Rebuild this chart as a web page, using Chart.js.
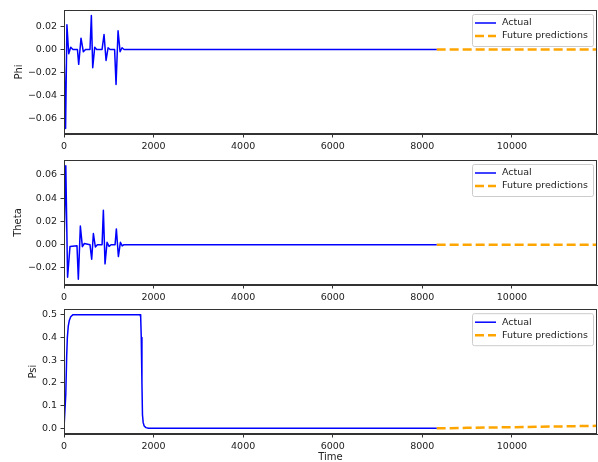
<!DOCTYPE html>
<html>
<head>
<meta charset="utf-8">
<script src="https://cdn.jsdelivr.net/npm/chart.js@4"></script>
<style>
  body { margin: 0; background: #fff; }
  #wrap { position: relative; width: 598px; height: 462px; }
  .panel { position: absolute; left: 0; width: 598px; height: 162px; }
</style>
</head>
<body>
<div id="wrap">
  <div class="panel" style="top:0px"><canvas id="phiChart"></canvas></div>
  <div class="panel" style="top:150px"><canvas id="thetaChart"></canvas></div>
  <div class="panel" style="top:300px"><canvas id="psiChart"></canvas></div>
</div>
<script>
// tick labels
var xTicks = [0, 2000, 4000, 6000, 8000, 10000];
var phiTicks = [-0.06, -0.04, -0.02, 0.00, 0.02];
var thetaTicks = [-0.02, 0.00, 0.02, 0.04, 0.06];
var psiTicks = [0.0, 0.1, 0.2, 0.3, 0.4, 0.5];

// Phi - actual
var phiTime = [0, 15, 35, 65, 105, 150, 200, 300, 328, 380, 432, 480, 580, 611, 641, 686, 730, 850, 894, 939, 984, 1030, 1130, 1162, 1207, 1252, 1296, 1340, 8320];
var phiValue = [0, 0, -0.069, 0.0217, -0.0037, 0.002, 0, 0, -0.013, 0.0099, -0.002, 0, 0, 0.0296, -0.016, 0.002, 0, 0, 0.013, -0.0096, 0.0015, 0, 0, -0.0307, 0.0163, -0.002, 0.0015, 0, 0];
// Theta - actual
var thetaTime = [0, 15, 40, 80, 134, 290, 320, 365, 410, 455, 580, 618, 656, 700, 745, 850, 879, 916, 961, 1006, 1050, 1140, 1169, 1214, 1259, 1300, 1340, 8320];
var thetaValue = [0, 0, 0.068, -0.028, -0.0015, -0.001, -0.0298, 0.016, -0.0017, 0.001, 0, -0.0125, 0.0096, -0.002, 0, 0, 0.0296, -0.0165, 0.002, -0.0015, 0, 0, 0.0136, -0.0102, 0.002, -0.001, 0, 0];
// Psi - actual
var psiTime = [0, 22, 40, 60, 75, 95, 118, 150, 195, 1700, 1712, 1725, 1740, 1752, 1768, 1790, 1830, 1890, 8320];
var psiValue = [0, 0, 0.15, 0.32, 0.4, 0.45, 0.475, 0.492, 0.5, 0.5, 0.49, 0.4, 0.2, 0.06, 0.025, 0.01, 0.003, 0, 0];

// future predictions
var phiPredTime = [8320, 11900];
var phiPredValue = [0, 0];
var thetaPredTime = [8320, 11900];
var thetaPredValue = [0, 0];
var psiPredTime = [8320, 9000, 10000, 11000, 11900];
var psiPredValue = [0, 0.002, 0.005, 0.008, 0.011];

Chart.defaults.font.family = "'DejaVu Sans', sans-serif";
Chart.defaults.color = '#222';

function toPoints(xs, ys) {
    return xs.map(function (x, i) { return { x: x, y: ys[i] }; });
}

function fmt(v, d) {
    return v.toFixed(d).replace('-', '\u2212');
}

// box around the plot + legend in upper right
var frameLegend = {
    id: 'frameLegend',
    afterDraw: function (chart) {
        var a = chart.chartArea;
        var ctx = chart.ctx;
        ctx.save();
        ctx.strokeStyle = '#333';
        ctx.lineWidth = 1;
        ctx.strokeRect(Math.round(a.left) + 0.5, Math.round(a.top) + 0.5,
            Math.round(a.right - a.left) - 1, Math.round(a.bottom - a.top) - 1);

        var w = 121, h = 32;
        var bx = a.right - 4 - w, by = a.top + 4;
        ctx.beginPath();
        ctx.roundRect(bx + 0.5, by + 0.5, w, h, 2);
        ctx.fillStyle = 'rgba(255,255,255,0.8)';
        ctx.fill();
        ctx.strokeStyle = '#ccc';
        ctx.stroke();

        ctx.font = "9.5px 'DejaVu Sans'";
        ctx.textBaseline = 'middle';
        ctx.fillStyle = '#222';

        ctx.beginPath();
        ctx.strokeStyle = '#0000ff';
        ctx.lineWidth = 1.5;
        ctx.moveTo(bx + 3, by + 9);
        ctx.lineTo(bx + 24, by + 9);
        ctx.stroke();
        ctx.fillText('Actual', bx + 30, by + 9);

        ctx.beginPath();
        ctx.strokeStyle = '#ffa500';
        ctx.lineWidth = 2.5;
        ctx.setLineDash([9, 4]);
        ctx.moveTo(bx + 3, by + 22);
        ctx.lineTo(bx + 24, by + 22);
        ctx.stroke();
        ctx.setLineDash([]);
        ctx.fillText('Future predictions', bx + 30, by + 22);
        ctx.restore();
    }
};

function makeChart(id, label, actT, actV, prT, prV, yMin, yMax, yTicks, dec, opts) {
    var ctx = document.getElementById(id).getContext('2d');
    return new Chart(ctx, {
        type: 'line',
        data: {
            datasets: [{
                label: 'Actual',
                data: toPoints(actT, actV),
                borderColor: '#0000ff',
                borderWidth: 1.5,
                borderJoinStyle: 'round',
                pointRadius: 0,
                tension: 0
            }, {
                label: 'Future predictions',
                data: toPoints(prT, prV),
                borderColor: '#ffa500',
                borderWidth: 2.5,
                borderDash: [9, 4],
                pointRadius: 0,
                tension: 0
            }]
        },
        options: {
            responsive: true,
            maintainAspectRatio: false,
            animation: false,
            layout: { padding: { top: opts.top, right: 1, left: 0, bottom: 0 } },
            plugins: { legend: { display: false }, tooltip: { enabled: false } },
            scales: {
                x: {
                    type: 'linear',
                    min: 0,
                    max: 11900,
                    afterBuildTicks: function (s) { s.ticks = xTicks.map(function (v) { return { value: v }; }); },
                    afterFit: function (s) { s.height = opts.xh; },
                    ticks: { font: { size: 9.5 }, padding: 3, maxRotation: 0, callback: function (v) { return String(v); } },
                    grid: { drawOnChartArea: false, drawTicks: true, tickLength: 3.5, color: '#333' },
                    border: { display: true, color: '#333' },
                    title: { display: !!opts.xTitle, text: opts.xTitle || '', font: { size: 10 }, padding: { top: 0, bottom: -1 } }
                },
                y: {
                    type: 'linear',
                    min: yMin,
                    max: yMax,
                    afterBuildTicks: function (s) { s.ticks = yTicks.map(function (v) { return { value: v }; }); },
                    afterFit: function (s) { s.width = 64; },
                    ticks: { font: { size: 9.5 }, padding: 3.5, callback: function (v) { return fmt(v, dec); } },
                    grid: { drawOnChartArea: false, drawTicks: true, tickLength: 3.5, color: '#333' },
                    border: { display: true, color: '#333' },
                    title: { display: true, text: label, font: { size: 10 }, padding: { top: opts.yPad, bottom: 0 } }
                }
            }
        },
        plugins: [frameLegend]
    });
}

document.addEventListener('DOMContentLoaded', function () {
    makeChart('phiChart', 'Phi', phiTime, phiValue, phiPredTime, phiPredValue,
        -0.0739, 0.0345, phiTicks, 2, { top: 10, xh: 28, yPad: 13 });
    makeChart('thetaChart', 'Theta', thetaTime, thetaValue, thetaPredTime, thetaPredValue,
        -0.0347, 0.0729, thetaTicks, 2, { top: 10, xh: 27, yPad: 12 });
    makeChart('psiChart', 'Psi', psiTime, psiValue, psiPredTime, psiPredValue,
        -0.025, 0.525, psiTicks, 1, { top: 9, xh: 28, yPad: 27, xTitle: 'Time' });
});
</script>
</body>
</html>
